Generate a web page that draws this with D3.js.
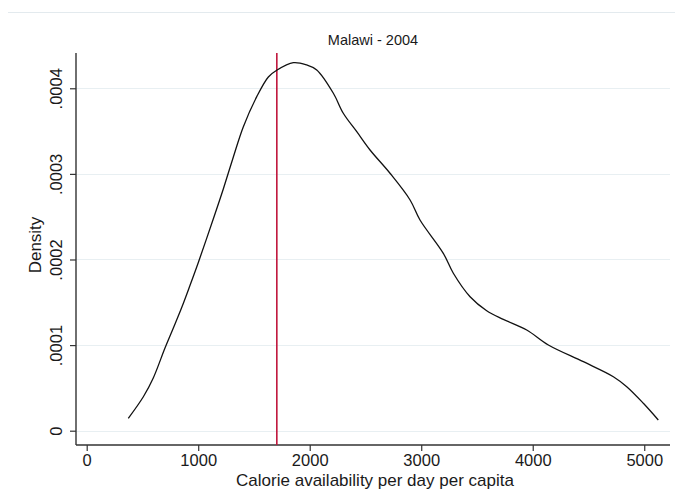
<!DOCTYPE html>
<html>
<head>
<meta charset="utf-8">
<script src="https://cdn.jsdelivr.net/npm/d3@7"></script>
<style>
  html, body { margin: 0; padding: 0; background: #ffffff; }
  svg { display: block; font-family: "Liberation Sans", Arial, sans-serif; }
</style>
</head>
<body>
<svg id="chart" width="675" height="500"></svg>
<script>
// ---- data ----
const calories = [373, 508, 597, 702, 777, 852, 926, 1001, 1135, 1225, 1315, 1404, 1525, 1629, 1704,
                  1853, 1973, 2063, 2212, 2301, 2422, 2541, 2720, 2900, 2989, 3198, 3288, 3438, 3587,
                  3736, 3946, 4140, 4454, 4723, 4843, 4992, 5126];
const density = [0.0000145, 0.0000397, 0.0000616, 0.0000966, 0.00012, 0.0001439, 0.0001696, 0.0001965,
                 0.0002473, 0.0002824, 0.0003197, 0.0003548, 0.0003902, 0.0004132, 0.000421,
                 0.0004299, 0.0004272, 0.0004214, 0.0003942, 0.0003708, 0.0003493, 0.0003279, 0.0003007,
                 0.0002695, 0.0002461, 0.0002072, 0.0001839, 0.0001565, 0.0001402,
                 0.0001301, 0.0001176, 0.0001001, 0.0000806, 0.0000631, 0.0000514, 0.000032, 0.0000125];
const refLine = [1705];
const xTicks = [0, 1000, 2000, 3000, 4000, 5000];
const yTicks = [0, 0.0001, 0.0002, 0.0003, 0.0004];
const yTickLabels = ["0", ".0001", ".0002", ".0003", ".0004"];
const chartTitle = "Malawi - 2004";
const xTitle = "Calorie availability per day per capita";
const yTitle = "Density";

// ---- layout ----
const pL = 76, pR = 670, pT = 53, pB = 445;
const svg = d3.select("#chart");

const x = d3.scaleLinear().domain([-96, 5231]).range([pL, pR]);
const y = d3.scaleLinear().domain([-0.0000167, 0.0004412]).range([pB, pT]);

// outer top rule
svg.append("line").attr("x1", 8).attr("x2", 675).attr("y1", 12.5).attr("y2", 12.5)
  .attr("stroke", "#e3eaee").attr("stroke-width", 1);

// gridlines
svg.append("g").selectAll("line").data(yTicks).join("line")
  .attr("x1", pL).attr("x2", pR)
  .attr("y1", d => Math.round(y(d)) + 0.5).attr("y2", d => Math.round(y(d)) + 0.5)
  .attr("stroke", "#e8eff2").attr("stroke-width", 1.2);

// axes
const yAxis = d3.axisLeft(y).tickValues(yTicks).tickSize(6).tickPadding(8)
  .tickFormat((d, i) => yTickLabels[i]);
const gy = svg.append("g").attr("transform", `translate(${pL},0)`).call(yAxis);
gy.select(".domain").attr("d", `M0,${pT}V${pB}`).attr("stroke", "#333").attr("stroke-width", 1.4);
gy.selectAll(".tick line").attr("stroke", "#333").attr("stroke-width", 1.2);
gy.selectAll(".tick text")
  .attr("x", null).attr("dy", null)
  .attr("transform", "translate(-14,0) rotate(-90)")
  .attr("text-anchor", "middle")
  .attr("font-size", 16.5).attr("fill", "#1a1a1a")
  .attr("font-family", "Liberation Sans, Arial, sans-serif");

const xAxis = d3.axisBottom(x).tickValues(xTicks).tickSize(6).tickPadding(4).tickFormat(d3.format("d"));
const gx = svg.append("g").attr("transform", `translate(0,${pB})`).call(xAxis);
gx.select(".domain").attr("d", `M${pL},0H${pR}`).attr("stroke", "#333").attr("stroke-width", 1.4);
gx.selectAll(".tick line").attr("stroke", "#333").attr("stroke-width", 1.2);
gx.selectAll(".tick text")
  .attr("y", null).attr("dy", null)
  .attr("transform", "translate(0,21)")
  .attr("font-size", 16.5).attr("fill", "#1a1a1a")
  .attr("font-family", "Liberation Sans, Arial, sans-serif");

// reference line
svg.append("g").selectAll("line").data(refLine).join("line")
  .attr("x1", d => x(d)).attr("x2", d => x(d))
  .attr("y1", pT).attr("y2", pB)
  .attr("stroke", "#c0163c").attr("stroke-width", 1.6);

// density curve
const pts = calories.map((c, i) => [c, density[i]]);
const line = d3.line().x(d => x(d[0])).y(d => y(d[1])).curve(d3.curveCatmullRom.alpha(0.5));
svg.append("path").datum(pts).attr("d", line)
  .attr("fill", "none").attr("stroke", "#111").attr("stroke-width", 1.3);

// titles
svg.append("text").attr("x", (pL + pR) / 2).attr("y", 45)
  .attr("text-anchor", "middle").attr("font-size", 14.5).attr("fill", "#1a1a1a").text(chartTitle);
svg.append("text").attr("x", (pL + pR) / 2 + 2).attr("y", 486)
  .attr("text-anchor", "middle").attr("font-size", 17).attr("fill", "#1a1a1a").text(xTitle);
svg.append("text").attr("transform", `translate(41,${(pT + pB) / 2 - 4}) rotate(-90)`)
  .attr("text-anchor", "middle").attr("font-size", 17).attr("fill", "#1a1a1a").text(yTitle);
</script>
</body>
</html>
